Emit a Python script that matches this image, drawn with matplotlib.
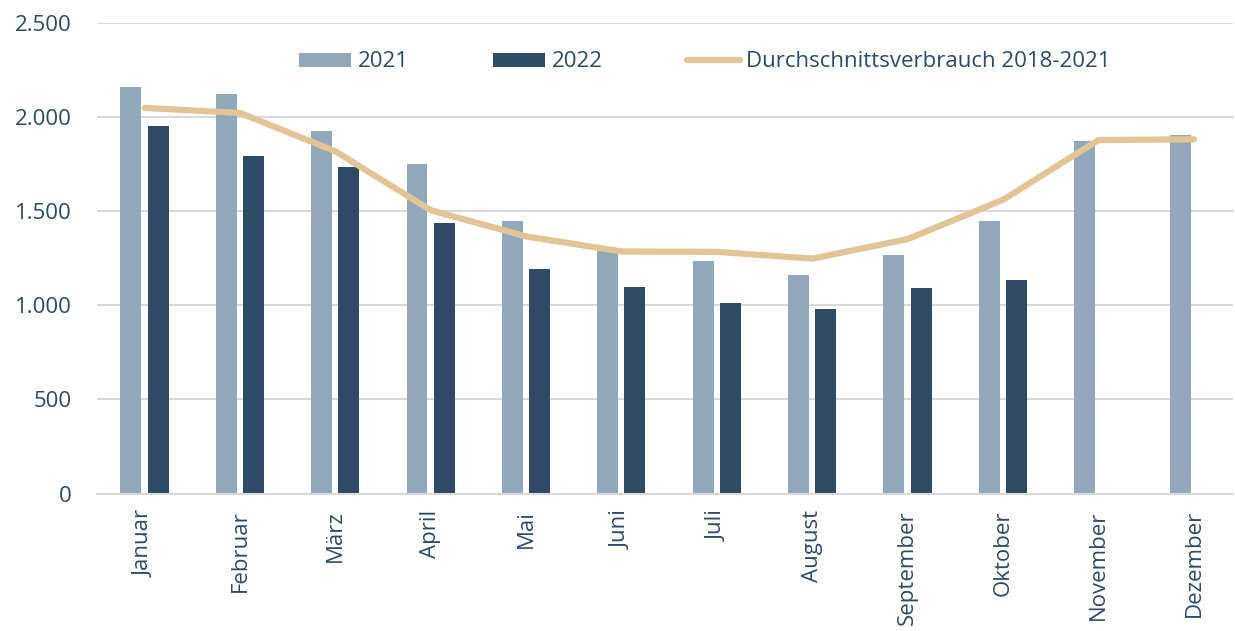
import matplotlib
matplotlib.use("Agg")
import matplotlib.pyplot as plt
import numpy as np

months = ["Januar", "Februar", "März", "April", "Mai", "Juni", "Juli",
          "August", "September", "Oktober", "November", "Dezember"]
v2021 = [2162, 2125, 1928, 1753, 1448, 1290, 1238, 1159, 1269, 1449, 1875, 1905]
v2022 = [1951, 1795, 1733, 1439, 1192, 1097, 1010, 980, 1091, 1132, np.nan, np.nan]
avg = [2049, 2022, 1818, 1505, 1366, 1286, 1284, 1248, 1352, 1561, 1878, 1882]
yticks = [0, 500, 1000, 1500, 2000, 2500]
ytick_labels = ["0", "500", "1.000", "1.500", "2.000", "2.500"]

C21 = "#94a8bb"
C22 = "#2f4a64"
CL = "#e2c596"
TXT = "#2e4a66"
GRID = "#d9d9d9"

plt.rcParams['font.family'] = ['Open Sans', 'DejaVu Sans']

fig = plt.figure(figsize=(12.35, 6.31), dpi=100)
ax = fig.add_axes([97/1235, 1-493.5/631, (1233-97)/1235, (493.5-23)/631])

x = np.arange(len(months))
w = 0.22
b1 = ax.bar(x - 0.145, v2021, width=w, color=C21, label="2021", zorder=2)
b2 = ax.bar(x + 0.14, v2022, width=w, color=C22, label="2022", zorder=2)
l1, = ax.plot(x, avg, color=CL, lw=4.5, solid_capstyle='round', solid_joinstyle='round',
              label="Durchschnittsverbrauch 2018-2021", zorder=3)

ax.set_ylim(0, 2500)
ax.set_xlim(-0.5, 11.41)
ax.set_yticks(yticks)
ax.set_yticklabels(ytick_labels)
ax.set_xticks(x)
ax.set_xticklabels(months, rotation=90)
ax.tick_params(axis='both', length=0, labelsize=16, colors=TXT)
ax.tick_params(axis='y', pad=18)
ax.tick_params(axis='x', pad=12)
ax.yaxis.grid(True, color=GRID, lw=1.5, zorder=0)
ax.set_axisbelow(True)
for s in ["left", "right", "top"]:
    ax.spines[s].set_visible(False)
ax.spines["bottom"].set_color(GRID)
ax.spines["bottom"].set_linewidth(1.5)

leg = ax.legend(handles=[b1, b2, l1], loc="upper left", bbox_to_anchor=(0.16, 0.982),
                ncol=3, frameon=False, fontsize=16, handlelength=2.35, handleheight=0.6,
                columnspacing=3.8, handletextpad=0.3, labelcolor=TXT)

fig.savefig("out.png", dpi=100, facecolor="white")
